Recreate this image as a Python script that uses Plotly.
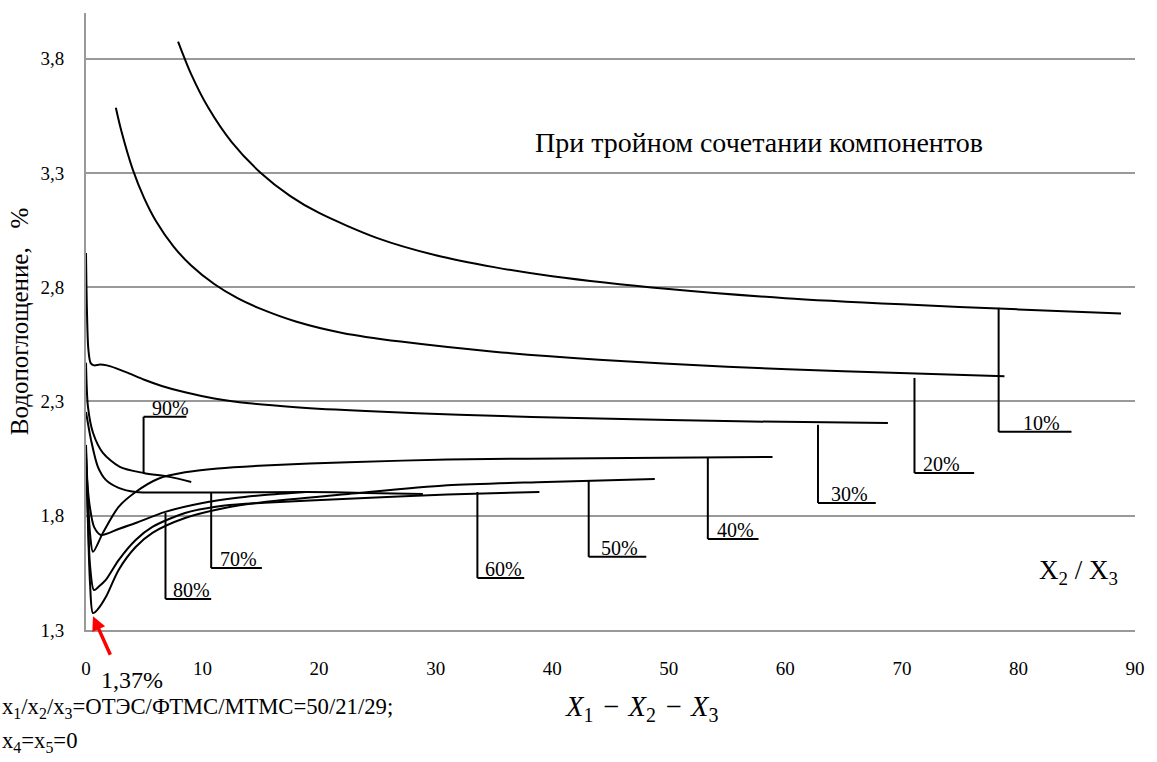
import plotly.graph_objects as go

# ---------------- data ----------------
x_10 = [7.9, 9.0, 10.5, 12.5, 15.0, 17.5, 20.0, 25.0, 30.0, 35.0, 40.0, 50.0, 60.0, 70.0, 80.0, 88.8]
y_10 = [3.875, 3.735, 3.585, 3.435, 3.30, 3.20, 3.125, 3.015, 2.94, 2.888, 2.848, 2.792, 2.752, 2.725, 2.703, 2.685]

x_20 = [2.56, 3.0, 4.0, 5.0, 6.0, 7.5, 9.0, 11.0, 13.0, 15.0, 18.0, 22.0, 27.0, 35.0, 44.0, 55.0, 65.0, 78.8]
y_20 = [3.585, 3.49, 3.317, 3.189, 3.09, 2.979, 2.896, 2.814, 2.752, 2.705, 2.65, 2.60, 2.562, 2.518, 2.483, 2.452, 2.432, 2.41]

x_30 = [0.0, 0.08, 0.2, 0.4, 0.7, 1.2, 1.8, 2.6, 3.6, 5.0, 6.5, 8.5, 11.0, 14.0, 18.0, 24.0, 32.0, 44.0, 56.0, 68.8]
y_30 = [2.95, 2.70, 2.53, 2.468, 2.458, 2.462, 2.458, 2.445, 2.425, 2.395, 2.368, 2.34, 2.313, 2.292, 2.275, 2.258, 2.242, 2.225, 2.213, 2.206]

x_40 = [0.0, 0.15, 0.35, 0.6, 1.45, 2.8, 4.26, 6.2, 8.5, 11.3, 15.3, 22.5, 31.0, 43.8, 58.9]
y_40 = [2.11, 1.90, 1.72, 1.642, 1.725, 1.839, 1.904, 1.962, 1.99, 2.007, 2.02, 2.034, 2.046, 2.052, 2.057]

x_50 = [0.0, 0.15, 0.35, 0.6, 1.0, 1.7, 2.8, 4.26, 5.7, 8.5, 11.9, 15.3, 22.5, 31.0, 39.5, 48.8]
y_50 = [2.08, 1.80, 1.50, 1.374, 1.39, 1.444, 1.563, 1.663, 1.725, 1.79, 1.834, 1.86, 1.895, 1.933, 1.948, 1.961]

x_60 = [0.0, 0.15, 0.35, 0.68, 1.1, 1.7, 2.8, 4.26, 5.7, 8.5, 11.9, 15.3, 22.5, 31.0, 38.9]
y_60 = [2.06, 1.82, 1.58, 1.475, 1.49, 1.519, 1.606, 1.694, 1.751, 1.812, 1.845, 1.857, 1.874, 1.893, 1.904]

x_70 = [0.0, 0.43, 1.02, 1.7, 2.8, 4.26, 8.0, 12.0, 18.9, 24.0, 28.9]
y_70 = [2.254, 2.132, 2.014, 1.957, 1.922, 1.904, 1.902, 1.902, 1.904, 1.90, 1.895]

x_80 = [0.0, 0.3, 0.7, 1.28, 2.8, 4.26, 6.8, 10.0, 12.8, 15.3, 18.9]
y_80 = [2.02, 1.85, 1.75, 1.716, 1.742, 1.768, 1.817, 1.856, 1.878, 1.891, 1.904]

x_90 = [0.0, 0.17, 0.6, 1.45, 2.9, 4.94, 7.16, 9.03]
y_90 = [2.469, 2.276, 2.163, 2.075, 2.014, 1.987, 1.970, 1.948]

series = [
    ("10%", x_10, y_10), ("20%", x_20, y_20), ("30%", x_30, y_30),
    ("40%", x_40, y_40), ("50%", x_50, y_50), ("60%", x_60, y_60),
    ("70%", x_70, y_70), ("80%", x_80, y_80), ("90%", x_90, y_90),
]

# callouts: label, x of stem, y on curve, y of foot, x end of foot
callout_labels = ["10%", "20%", "30%", "40%", "50%", "60%", "70%", "80%", "90%"]
callout_x = [78.3, 71.08, 62.8, 53.35, 43.13, 33.58, 10.74, 6.82, 4.94]
callout_y_curve = [2.71, 2.403, 2.198, 2.057, 1.952, 1.904, 1.904, 1.812, 1.987]
callout_y_foot = [2.167, 1.987, 1.856, 1.698, 1.62, 1.528, 1.571, 1.436, 2.233]
callout_x_end = [84.55, 76.2, 67.76, 57.7, 48.07, 37.6, 15.09, 10.74, 8.61]
callout_text_shift = [22, 7, 11, 7, 10, 6, 7, 6, 6]

x_ticks = [0, 10, 20, 30, 40, 50, 60, 70, 80, 90]
y_ticks = [1.3, 1.8, 2.3, 2.8, 3.3, 3.8]

FONT = "Liberation Serif"

fig = go.Figure()
for name, xs, ys in series:
    fig.add_trace(go.Scatter(
        x=xs, y=ys, mode="lines", name=name,
        line=dict(color="black", width=2, shape="spline", smoothing=0.8),
        showlegend=False, hoverinfo="skip",
    ))

shapes = []
annotations = []
for lab, cx, cyc, cyf, cxe, sh in zip(callout_labels, callout_x, callout_y_curve,
                                     callout_y_foot, callout_x_end, callout_text_shift):
    shapes.append(dict(type="line", xref="x", yref="y", x0=cx, x1=cx, y0=cyc, y1=cyf,
                       line=dict(color="black", width=2)))
    shapes.append(dict(type="line", xref="x", yref="y", x0=cx, x1=cxe, y0=cyf, y1=cyf,
                       line=dict(color="black", width=2)))
    annotations.append(dict(x=cx, y=cyf, xref="x", yref="y", text=lab, showarrow=False,
                            xanchor="left", yanchor="bottom", xshift=sh, yshift=-4,
                            font=dict(family=FONT, size=20, color="black")))

def px_x(p):
    return (p - 86) / 1056

def px_y(p):
    return (630 - p) / 617

SP = "\u2004"
annotations += [
    dict(x=57.7, y=3.432, xref="x", yref="y", text="При тройном сочетании компонентов",
         showarrow=False, xanchor="center", yanchor="middle",
         font=dict(family=FONT, size=28, color="black")),
    dict(x=px_x(1085), y=px_y(572), xref="paper", yref="paper", text="X<sub>2</sub> / X<sub>3</sub>",
         showarrow=False, xanchor="center", yanchor="middle",
         font=dict(family=FONT, size=27, color="black")),
    dict(x=0.6, y=1.36, xref="x", yref="y", text="", showarrow=True,
         ax=18, ay=40, arrowcolor="red", arrowwidth=3.5, arrowhead=2, arrowsize=0.8),
    dict(x=px_x(132), y=px_y(680), xref="paper", yref="paper", text="1,37%",
         showarrow=False, xanchor="center", yanchor="middle",
         font=dict(family=FONT, size=24, color="black")),
    dict(x=px_x(-1), y=px_y(708), xref="paper", yref="paper",
         text="x<sub>1</sub>/x<sub>2</sub>/x<sub>3</sub>=ОТЭС/ФТМС/МТМС=50/21/29;",
         showarrow=False, xanchor="left", yanchor="middle",
         font=dict(family=FONT, size=22.7, color="black")),
    dict(x=px_x(-1), y=px_y(742), xref="paper", yref="paper",
         text="x<sub>4</sub>=x<sub>5</sub>=0",
         showarrow=False, xanchor="left", yanchor="middle",
         font=dict(family=FONT, size=22.7, color="black")),
    dict(x=px_x(645), y=px_y(709), xref="paper", yref="paper",
         text="<i>X</i><sub>1</sub>" + SP + "−" + SP + "<i>X</i><sub>2</sub>" + SP + "−" + SP + "<i>X</i><sub>3</sub>",
         showarrow=False, xanchor="center", yanchor="middle",
         font=dict(family=FONT, size=28.5, color="black")),
]

fig.update_layout(
    width=1157, height=762,
    margin=dict(l=86, r=15, t=13, b=132),
    paper_bgcolor="white", plot_bgcolor="white",
    separators=", ",
    font=dict(family=FONT, size=19, color="black"),
    shapes=shapes, annotations=annotations,
    showlegend=False,
)
fig.update_xaxes(
    range=[0, 90], tickvals=x_ticks, showgrid=False, zeroline=False,
    showline=True, linecolor="#999999", linewidth=2,
    ticks="", ticklabelstandoff=20, tickfont=dict(family=FONT, size=19),
)
fig.update_yaxes(
    range=[1.3, 4.0], tickvals=y_ticks, tickformat=".1f",
    showgrid=True, gridcolor="#999999", gridwidth=2, zeroline=False,
    showline=True, linecolor="#999999", linewidth=2,
    ticks="", ticklabelstandoff=16, tickfont=dict(family=FONT, size=19),
    title=dict(text="Водопоглощение,\u00a0\u00a0\u00a0%", font=dict(family=FONT, size=25), standoff=5),
)

fig.write_html("out.html")
